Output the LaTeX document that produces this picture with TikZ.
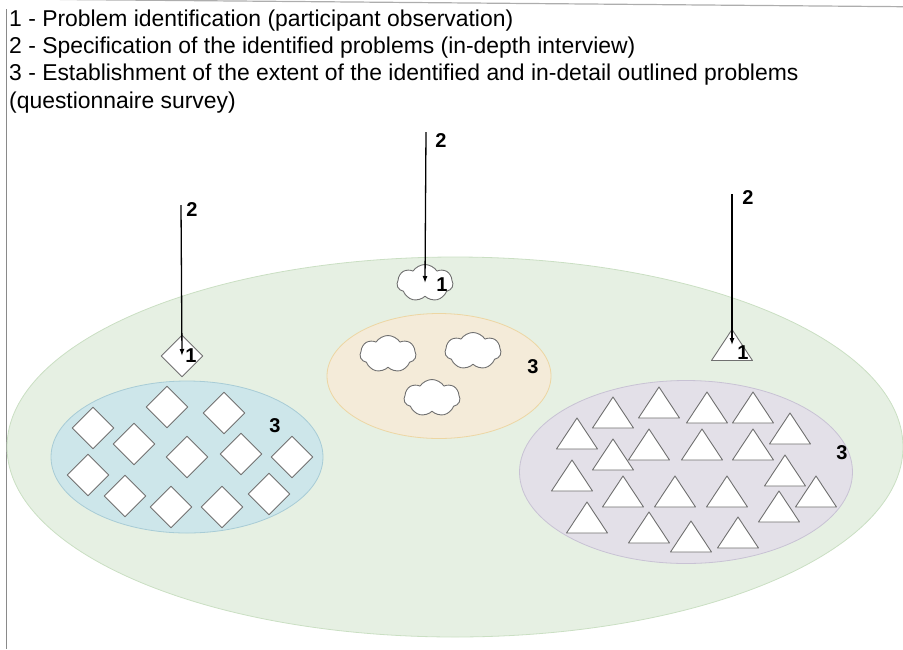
\documentclass[tikz,border=0pt]{standalone}
\usepackage{fontspec}
\setmainfont{Liberation Sans}
\usetikzlibrary{shapes.geometric,shapes.symbols,arrows.meta}

\definecolor{frameline}{HTML}{8A8A8A}
\definecolor{outerfill}{HTML}{E6F0E3}
\definecolor{outerline}{HTML}{CADFC3}
\definecolor{bluefill}{HTML}{CDE6EA}
\definecolor{blueline}{HTML}{A8CCD6}
\definecolor{orangefill}{HTML}{F4EBD9}
\definecolor{orangeline}{HTML}{EDD6A3}
\definecolor{purplefill}{HTML}{E3E0E8}
\definecolor{purpleline}{HTML}{C8C2D4}
\definecolor{shapeborder}{HTML}{707070}

\tikzset{
  legend/.style={anchor=base west, inner sep=0pt, font=\fontsize{22.9}{27}\selectfont},
  numlabel/.style={inner sep=0pt, font=\bfseries\fontsize{20}{20}\selectfont},
  shapeline/.style={draw=shapeborder, fill=white, line width=0.9pt, line join=round},
  diamondbox/.style={shapeline, diamond, aspect=1, inner sep=0pt, minimum width=42pt, minimum height=42pt},
  cloudbox/.style={shapeline, cloud, cloud puffs=7, cloud puff arc=115, cloud ignores aspect,
                   inner sep=0pt, minimum width=56pt, minimum height=37pt},
  pointer/.style={draw=black, line width=1.3pt, -{Latex[length=7pt,width=5pt]}},
  tri/.pic={\draw[shapeline] (-20.5,15.5) -- (0,-15.5) -- (20.5,15.5) -- cycle;
            \coordinate (-c) at (0,0);},
}

\begin{document}
\begin{tikzpicture}[x=1pt,y=-1pt]
\useasboundingbox (0,0) rectangle (903,649);

% frame lines (left and top)
\draw[frameline, line width=1.2pt] (6.5,9) -- (6.5,649);
\draw[frameline!70, line width=1.2pt] (60,-0.5) -- (903,6.7);

% legend
\node[legend] (leg1) at (9,26)    {1 - Problem identification (participant observation)};
\node[legend] (leg2) at (9,53.3)  {2 - Specification of the identified problems (in-depth interview)};
\node[legend] (leg3) at (9,80.6)  {3 - Establishment of the extent of the identified and in-detail outlined problems};
\node[legend] (leg4) at (9,108)   {(questionnaire survey)};

% population and the three problem areas
\node[ellipse, fill=outerfill, draw=outerline, line width=0.8pt,
      minimum width=896pt, minimum height=380pt, inner sep=0pt] (whole) at (455,447) {};
\node[ellipse, fill=bluefill, draw=blueline, line width=0.8pt,
      minimum width=272pt, minimum height=152pt, inner sep=0pt] (areaA) at (187,457) {};
\node[ellipse, fill=orangefill, draw=orangeline, line width=0.8pt,
      minimum width=224pt, minimum height=125pt, inner sep=0pt] (areaB) at (439,376) {};
\node[ellipse, fill=purplefill, draw=purpleline, line width=0.8pt,
      minimum width=333pt, minimum height=183pt, inner sep=0pt] (areaC) at (686,472) {};

% diamonds
\node[diamondbox] (dA)  at (182,356) {};
\foreach \i/\x/\y in {1/93/428, 2/134/444, 3/167/407, 4/224/413, 5/187/457, 6/241/454,
                      7/292/457, 8/88/475, 9/125/496, 10/171/507, 11/222/507, 12/269/494}
  \node[diamondbox] (d\i) at (\x,\y) {};

% clouds
\node[cloudbox] (cB) at (425,283) {};
\node[cloudbox] (c1) at (388,354) {};
\node[cloudbox] (c2) at (473,351) {};
\node[cloudbox] (c3) at (432,398) {};

% triangles (position = centre of the triangle)
\pic (tC) at (732,345) {tri};
\foreach \i/\x/\y in {1/577/433.5, 2/613/412.5, 3/659/402.5, 4/707/407.5, 5/753/407.5,
                      6/790/428.5, 7/613/454.5, 8/649/444.5, 9/702/444.5, 10/753/444.5,
                      11/572/475.5, 12/623/491.5, 13/675/491.5, 14/727/491.5, 15/785/470.5,
                      16/816/491.5, 17/779/506.5, 18/587/517.5, 19/649/527.5, 20/691/536.5,
                      21/738/532.5}
  \pic (t\i) at (\x,\y) {tri};

% arrows from above into the first found problem
\coordinate (topA) at (181,205);
\coordinate (topB) at (426,132);
\coordinate (topC) at (732,194);
\draw[pointer] (topA) -- (dA.center);
\draw[pointer] (topB) -- (cB.center);
\draw[pointer] (topC) -- (tC-c);

% step numbers
\node[numlabel] (n2A) at (192,210) {2};
\node[numlabel] (n1A) at (191,356) {1};
\node[numlabel] (n2B) at (441,141) {2};
\node[numlabel] (n1B) at (442,285) {1};
\node[numlabel] (n2C) at (748,198) {2};
\node[numlabel] (n1C) at (743,353) {1};
\node[numlabel] (n3A) at (275,426) {3};
\node[numlabel] (n3B) at (533,367) {3};
\node[numlabel] (n3C) at (842,453) {3};
\end{tikzpicture}
\end{document}
